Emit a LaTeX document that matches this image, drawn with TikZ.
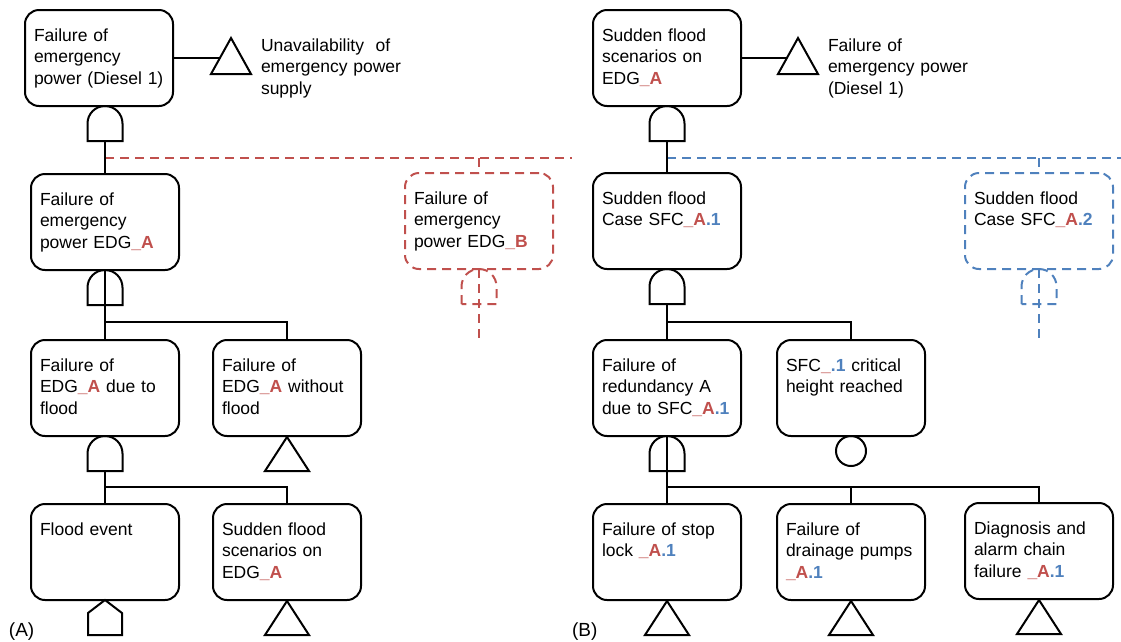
\documentclass[tikz,border=0pt]{standalone}
\usepackage{fontspec}
\setmainfont{Liberation Sans}
\definecolor{fred}{HTML}{C0504D}
\definecolor{fblue}{HTML}{4F81BD}
\newcommand\redA{\textcolor{fred}{\textbf{\_A}}}
\newcommand\redB{\textcolor{fred}{\textbf{\_B}}}
\newcommand\redU{\textcolor{fred}{\textbf{\_}}}
\newcommand\blueOne{\textcolor{fblue}{\textbf{.1}}}
\newcommand\blueTwo{\textcolor{fblue}{\textbf{.2}}}
\begin{document}
\begin{tikzpicture}[x=1pt,y=-1pt,line width=2pt,
  box/.style={draw, rounded corners=14pt, minimum width=148pt, minimum height=96pt, inner sep=0pt, outer sep=0pt},
  txt/.style={anchor=base west, align=left, text width=150pt, inner sep=0pt,
              font=\fontsize{17.5}{21.7}\selectfont, xshift=8pt, yshift=-31pt},
  side/.style={anchor=base west, align=left, text width=150pt, inner sep=0pt,
              font=\fontsize{17.5}{21.7}\selectfont},
  tag/.style={anchor=base west, inner sep=0pt, font=\fontsize{19}{22}\selectfont},
  reddash/.style={draw=fred, dash pattern=on 9pt off 6pt},
  bluedash/.style={draw=fblue, dash pattern=on 9pt off 6pt},
  andgate/.pic={\draw[pic actions] (-17.5,35) -- (-17.5,17.5)
      .. controls (-17.5,7.8) and (-9.7,0) .. (0,0)
      .. controls (9.7,0) and (17.5,7.8) .. (17.5,17.5) -- (17.5,35) -- cycle;},
  basic/.pic={\draw (0,0) -- (22,34) -- (-22,34) -- cycle;},
  sidetri/.pic={\draw (0,0) -- (20,36) -- (-20,36) -- cycle;},
  house/.pic={\draw (0,0) -- (17,13) -- (17,35) -- (-17,35) -- (-17,13) -- cycle;},
  event/.style={draw, circle, minimum size=30pt, inner sep=0pt, outer sep=0pt}
]
\useasboundingbox (0,0) rectangle (1121,641);

% ---------------- (A) ----------------
\node[box] (A1) at (99,58) {};
\node[txt] (A1t) at (A1.north west) {Failure of\\emergency\\power (Diesel 1)};
\pic at (231,38) {sidetri};
\draw (A1.east) -- ++(47,0);
\node[side] (sideAt) at (260,51) {Unavailability~ of\\emergency power\\supply};

\node[box] (A2) at (105,222) {};
\node[txt] (A2t) at (A2.north west) {Failure of\\emergency\\power EDG\redA};
\node[box, reddash] (AB) at (479,221) {};
\node[txt] (ABt) at (AB.north west) {Failure of\\emergency\\power EDG\redB};

% dashed link to the alternative redundancy
\draw[reddash] (A2.north) ++(0,-16) -- ++(467,0);
\draw[reddash] (AB.north) ++(0,-15) -- (AB.north);
\pic at (105,106) {andgate};
\draw (A2.north) ++(0,-33) -- (A2.north);

\pic[reddash] at (479,269) {andgate};
\draw[reddash] (AB.south) -- ++(0,71);

\node[box] (A3a) at (105,388) {};
\node[txt] (A3at) at (A3a.north west) {Failure of\\EDG\redA{} due to\\flood};
\node[box] (A3b) at (287,388) {};
\node[txt] (A3bt) at (A3b.north west) {Failure of\\EDG\redA{} without\\flood};
\pic at (105,270) {andgate};
\draw (A2.south) -- (A3a.north);
\draw (A3a.north) ++(0,-18) -| (A3b.north);
\pic at (287,437) {basic};

\node[box] (A4a) at (105,552) {};
\node[txt] (A4at) at (A4a.north west) {Flood event};
\node[box] (A4b) at (287,552) {};
\node[txt] (A4bt) at (A4b.north west) {Sudden flood\\scenarios on\\EDG\redA};
\pic at (105,436) {andgate};
\draw (A3a.south) ++(0,35) -- (A4a.north);
\draw (A4a.north) ++(0,-17) -| (A4b.north);
\pic at (105,600) {house};
\pic at (287,601) {basic};
\node[tag] (labA) at (8,636) {(A)};

% ---------------- (B) ----------------
\node[box] (B1) at (667,58) {};
\node[txt] (B1t) at (B1.north west) {Sudden flood\\scenarios on\\EDG\redA};
\pic at (798,38) {sidetri};
\draw (B1.east) -- ++(46,0);
\node[side] (sideBt) at (827,51) {Failure of\\emergency power\\(Diesel 1)};

\node[box] (B2) at (667,221) {};
\node[txt] (B2t) at (B2.north west) {Sudden flood\\Case SFC\redA\blueOne};
\node[box, bluedash] (BB) at (1039,221) {};
\node[txt] (BBt) at (BB.north west) {Sudden flood\\Case SFC\redA\blueTwo};

% dashed link to the second flood case
\draw[bluedash] (B2.north) ++(0,-15) -- ++(454,0);
\draw[bluedash] (BB.north) ++(0,-15) -- (BB.north);
\pic at (667,106) {andgate};
\draw (B2.north) ++(0,-32) -- (B2.north);

\pic[bluedash] at (1039,269) {andgate};
\draw[bluedash] (BB.south) -- ++(0,71);

\node[box] (B3a) at (667,388) {};
\node[txt] (B3at) at (B3a.north west) {Failure of\\redundancy A\\due to SFC\redA\blueOne};
\node[box] (B3b) at (851,388) {};
\node[txt] (B3bt) at (B3b.north west) {SFC\redU\blueOne{} critical\\height reached};
\pic at (667,269) {andgate};
\draw (B2.south) ++(0,35) -- (B3a.north);
\draw (B3a.north) ++(0,-18) -| (B3b.north);
\node[event] (cond) at (851,451) {};

\node[box] (B4a) at (667,552) {};
\node[txt] (B4at) at (B4a.north west) {Failure of stop\\lock \redA\blueOne};
\node[box] (B4b) at (851,552) {};
\node[txt] (B4bt) at (B4b.north west) {Failure of\\drainage pumps\\\redA\blueOne};
\node[box] (B4c) at (1039,551) {};
\node[txt] (B4ct) at (B4c.north west) {Diagnosis and\\alarm chain\\failure \redA\blueOne};
\pic at (667,436) {andgate};
\draw (B3a.south) -- (B4a.north);
\draw (B4a.north) ++(0,-17) -| (B4b.north);
\draw (B4a.north) ++(0,-17) -| (B4c.north);
\pic at (667,601) {basic};
\pic at (851,601) {basic};
\pic at (1039,600) {basic};
\node[tag] (labB) at (571,636) {(B)};
\end{tikzpicture}
\end{document}
